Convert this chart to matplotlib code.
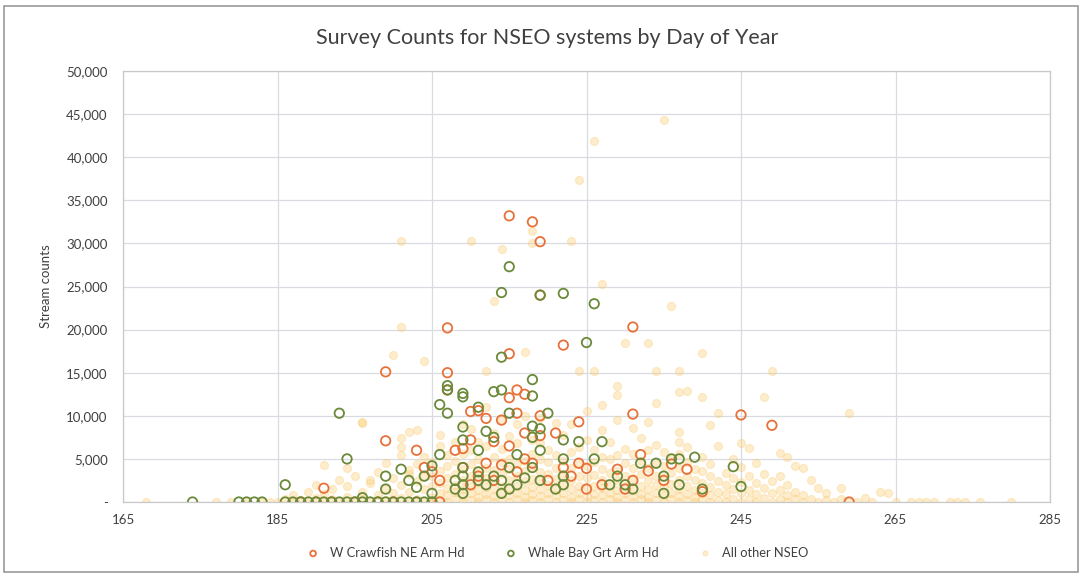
import matplotlib.pyplot as plt
import numpy as np
from matplotlib.ticker import FuncFormatter
from matplotlib.patches import Rectangle

plt.rcParams['font.family'] = ['Lato', 'DejaVu Sans']

# Data: (day of year, stream count)
crawfish_pts = [
    (188, 0), (190, 0), (192, 0), (195, 0), (198, 0), (200, 0), (203, 0), (206, 0),
    (191, 1600), (199, 7100), (199, 15100), (203, 6000), (204, 4000), (205, 3500),
    (206, 2500), (207, 20200), (207, 15000), (207, 13000), (208, 6000), (209, 4000),
    (209, 6200), (210, 10500), (210, 7200), (210, 2000), (211, 10600), (211, 3000),
    (212, 4500), (212, 9700), (213, 7000), (213, 2500), (214, 9500), (214, 4300),
    (215, 33200), (215, 17200), (215, 12100), (215, 6500), (216, 13000), (216, 10300),
    (216, 3500), (217, 12500), (217, 8000), (217, 5000), (218, 32500), (218, 4500),
    (219, 30200), (219, 24000), (219, 10000), (219, 7700), (220, 2500), (221, 8000),
    (222, 18200), (222, 4000), (223, 3000), (224, 9300), (224, 4500), (225, 3900),
    (225, 1500), (227, 2000), (229, 3800), (230, 1500), (231, 20300), (231, 10200),
    (231, 2500), (232, 5500), (233, 3600), (235, 2500), (236, 4400), (238, 3800),
    (240, 1200), (245, 10100), (249, 8900), (259, 0),
]

whale_pts = [
    (174, 0), (180, 0), (181, 0), (182, 0), (183, 0), (186, 0), (187, 0), (188, 0),
    (189, 0), (190, 0), (191, 0), (192, 0), (193, 0), (194, 0), (195, 0), (196, 0),
    (197, 0), (198, 0), (199, 0), (200, 0), (201, 0), (202, 0), (203, 0), (204, 0),
    (205, 0), (186, 2000), (193, 10300), (194, 5000), (196, 500), (199, 1500),
    (199, 3000), (201, 3800), (202, 2500), (203, 1700), (204, 3000), (205, 1000),
    (205, 4200), (206, 5500), (206, 11300), (207, 10300), (207, 13000), (207, 13500),
    (209, 12200), (209, 12600), (209, 8700), (209, 7200), (209, 4000), (209, 3000),
    (209, 2000), (209, 1000), (208, 2500), (208, 1500), (211, 11000), (211, 6000),
    (211, 3500), (211, 2500), (212, 8200), (212, 2000), (213, 12800), (213, 7500),
    (213, 3000), (214, 24300), (214, 16800), (214, 13000), (214, 1000), (214, 2500),
    (215, 27300), (215, 10300), (215, 4000), (215, 1500), (216, 5500), (216, 2000),
    (217, 2800), (218, 14200), (218, 12300), (218, 8800), (218, 7500), (218, 4000),
    (219, 24000), (219, 8500), (219, 6000), (219, 2500), (220, 10300), (221, 1500),
    (222, 24200), (222, 7200), (222, 5000), (222, 3000), (222, 2000), (224, 7000),
    (225, 18500), (226, 23000), (226, 5000), (227, 7000), (228, 2000), (229, 3000),
    (230, 2000), (231, 1500), (232, 4500), (234, 4500), (235, 1000), (235, 3000),
    (236, 5000), (237, 5000), (237, 2000), (239, 5200), (240, 1500), (244, 4100),
    (245, 1800),
]

other_pts = [
    # scattered high counts
    (235, 44300), (226, 41900), (224, 37300), (201, 30300), (210, 30300), (223, 30300),
    (214, 29300), (218, 31400), (218, 30100), (227, 25300), (213, 23300), (236, 22700),
    (201, 20350), (230, 18400), (233, 18500), (240, 17300), (217, 17400), (200, 17000),
    (204, 16300), (224, 15200), (226, 15200), (234, 15200), (237, 15200), (212, 15200),
    (249, 15200), (238, 12900), (240, 12200), (234, 11500), (248, 12200), (242, 10300),
    (241, 8950), (259, 10350), (229, 13400), (229, 12400), (237, 12800), (227, 11200),
    (233, 9300), (231, 8600), (237, 8100), (237, 7000), (246, 6300), (250, 5700),
    (251, 5200), (252, 4200), (245, 4100), (253, 3950), (254, 2550), (255, 1600),
    (258, 1600), (256, 1000), (263, 1160), (264, 1000), (261, 460),
    (196, 9300), (203, 8400), (201, 7400), (201, 6400), (206, 7800), (196, 9200),
    (191, 4300), (194, 3950), (197, 2550), (202, 8100), (202, 3700),
    # early season
    (168, 0), (177, 0), (179, 0), (181, 0), (183, 0), (184, 0),
    (185, 0), (186, 300), (187, 0), (187, 800), (188, 200), (189, 0), (189, 1200),
    (190, 500), (190, 2000), (191, 0), (191, 900), (192, 300), (192, 1500), (193, 0),
    (193, 2500), (194, 600), (194, 1800), (195, 0), (195, 3000), (196, 400), (196, 1200),
    (197, 2200), (197, 0), (198, 800), (198, 3500), (199, 200), (199, 1600), (199, 4500),
    (200, 0), (200, 1000), (200, 2800), (201, 500), (201, 2000), (201, 5500), (202, 0),
    (202, 1200), (202, 3200), (203, 400), (203, 2400), (203, 4400), (204, 0), (204, 1500),
    (204, 3000), (204, 5200),
    # main run
    (205, 0), (205, 600), (205, 1800), (205, 3000), (205, 4600),
    (206, 200), (206, 1000), (206, 2200), (206, 3600), (206, 6500),
    (207, 0), (207, 800), (207, 1600), (207, 2800), (207, 4200), (207, 5500),
    (208, 300), (208, 1200), (208, 2000), (208, 3300), (208, 4800), (208, 7000),
    (209, 0), (209, 700), (209, 1500), (209, 2600), (209, 3800), (209, 5600), (209, 9000),
    (210, 200), (210, 1000), (210, 1800), (210, 3000), (210, 4400), (210, 6000), (210, 8500),
    (211, 0), (211, 600), (211, 1400), (211, 2300), (211, 3600), (211, 5000), (211, 7000),
    (212, 300), (212, 900), (212, 1700), (212, 2800), (212, 4000), (212, 6500), (212, 11000),
    (213, 0), (213, 700), (213, 1500), (213, 2500), (213, 3700), (213, 5200), (213, 8000),
    (214, 200), (214, 1100), (214, 1900), (214, 3200), (214, 4600), (214, 6200), (214, 9500),
    (215, 0), (215, 800), (215, 1600), (215, 2600), (215, 3800), (215, 5000), (215, 7600),
    (216, 300), (216, 1000), (216, 1800), (216, 3000), (216, 4400), (216, 6800), (216, 9000),
    (217, 0), (217, 600), (217, 1400), (217, 2400), (217, 3600), (217, 4800), (217, 10000),
    (218, 200), (218, 900), (218, 1700), (218, 2700), (218, 4200), (218, 5600), (218, 7200),
    (219, 0), (219, 700), (219, 1500), (219, 2500), (219, 3500), (219, 5000), (219, 6800),
    (219, 9800),
    (220, 300), (220, 1000), (220, 2000), (220, 3200), (220, 4600), (220, 6000),
    (221, 0), (221, 800), (221, 1600), (221, 2700), (221, 3900), (221, 5400), (221, 9200),
    (222, 200), (222, 1100), (222, 2100), (222, 3300), (222, 4800), (222, 7800),
    (223, 0), (223, 600), (223, 1500), (223, 2600), (223, 4000), (223, 5800), (223, 9000),
    (224, 300), (224, 1000), (224, 1900), (224, 3000), (224, 4400), (224, 6400),
    (225, 0), (225, 700), (225, 1700), (225, 2800), (225, 4200), (225, 7200), (225, 10500),
    (226, 200), (226, 900), (226, 1800), (226, 3100), (226, 4600), (226, 6000),
    (227, 0), (227, 800), (227, 1600), (227, 2600), (227, 3800), (227, 5200), (227, 8400),
    (228, 300), (228, 1100), (228, 2000), (228, 3400), (228, 5000), (228, 7000),
    (229, 0), (229, 600), (229, 1400), (229, 2500), (229, 3600), (229, 5400), (229, 9500),
    (230, 200), (230, 1000), (230, 1900), (230, 3000), (230, 4500), (230, 6200),
    (231, 0), (231, 700), (231, 1600), (231, 2800), (231, 4000), (231, 5600),
    (232, 300), (232, 900), (232, 1800), (232, 3200), (232, 4800), (232, 7400),
    (233, 0), (233, 600), (233, 1500), (233, 2600), (233, 3900), (233, 6000),
    (234, 200), (234, 1100), (234, 2000), (234, 3000), (234, 4400), (234, 6600),
    (235, 0), (235, 800), (235, 1700), (235, 2900), (235, 4200), (235, 5800),
    (236, 300), (236, 1000), (236, 2100), (236, 3400), (236, 5000),
    (237, 0), (237, 700), (237, 1500), (237, 2600), (237, 4000), (237, 5600),
    (238, 200), (238, 900), (238, 1800), (238, 3000), (238, 4600), (238, 6400),
    (239, 0), (239, 600), (239, 1400), (239, 2500), (239, 3800),
    (240, 300), (240, 1000), (240, 2200), (240, 3600), (240, 5200),
    (241, 0), (241, 800), (241, 1700), (241, 3000), (241, 4400),
    (242, 200), (242, 1200), (242, 2400), (242, 6500),
    (243, 0), (243, 900), (243, 2000), (243, 3400),
    (244, 400), (244, 1500), (244, 2800), (244, 5000),
    (245, 0), (245, 1000), (245, 2300), (245, 6800),
    (246, 300), (246, 1400), (246, 3000),
    (247, 0), (247, 900), (247, 2200), (247, 4500),
    (248, 500), (248, 1600), (248, 3200),
    (249, 0), (249, 1100), (249, 2400),
    (250, 300), (250, 1400), (250, 3000),
    (251, 0), (251, 800), (251, 2000),
    (252, 400), (252, 1200), (253, 0), (253, 800),
    # tail
    (254, 300), (255, 0), (256, 200), (257, 0), (258, 300), (259, 0), (260, 0),
    (262, 0), (265, 0), (267, 0), (268, 0), (269, 0), (270, 0), (272, 0), (273, 0),
    (274, 0), (276, 0), (280, 0),
]

series_names = ['W Crawfish NE Arm Hd', 'Whale Bay Grt Arm Hd', 'All other NSEO']
x_ticks = [165, 185, 205, 225, 245, 265, 285]
y_ticks = list(range(0, 50001, 5000))

crawfish = np.array(crawfish_pts, dtype=float)
whale = np.array(whale_pts, dtype=float)
other = np.array(other_pts, dtype=float)

fig = plt.figure(figsize=(10.82, 5.74), dpi=100)
ax1 = fig.add_axes([123/1082, 1-502/574, (1050-123)/1082, (502-71)/574])

# outer chart frame like the scanned Excel chart
fig.patches.append(Rectangle((0.004, 0.004), 0.992, 0.985, transform=fig.transFigure,
                             fill=False, edgecolor='#9a9a9a', linewidth=1.2))

ax1.scatter(other[:, 0], other[:, 1], s=34, color='#FBC96A', alpha=0.33,
            linewidths=0.8, label=series_names[2], zorder=2)
ax1.scatter(crawfish[:, 0], crawfish[:, 1], s=46, facecolors='none', edgecolors='#E8713A',
            linewidths=1.3, label=series_names[0], zorder=3)
ax1.scatter(whale[:, 0], whale[:, 1], s=46, facecolors='none', edgecolors='#6A8A3A',
            linewidths=1.3, label=series_names[1], zorder=4)

ax1.set_xlim(165, 285)
ax1.set_ylim(0, 50000)
ax1.set_xticks(x_ticks)
ax1.set_yticks(y_ticks)
ax1.yaxis.set_major_formatter(FuncFormatter(lambda v, p: '-' if v == 0 else '{:,.0f}'.format(v)))
ax1.grid(True, color='#d8dce2', linewidth=0.9, zorder=0)
ax1.set_axisbelow(True)
for s in ax1.spines.values():
    s.set_color('#c8c8c8')
    s.set_linewidth(0.9)
ax1.tick_params(length=0, labelsize=9.5, colors='#404040', pad=11)
ax1.tick_params(axis='x', pad=9)

ax1.set_ylabel('Stream counts', fontsize=9.5, color='#404040', labelpad=10)
fig.text(0.506, 0.934, 'Survey Counts for NSEO systems by Day of Year', ha='center',
         va='center', fontsize=15.5, color='#404040')

h = ax1.get_legend_handles_labels()
order = [1, 2, 0]
ax1.legend([h[0][i] for i in order], [h[1][i] for i in order], loc='center',
           bbox_to_anchor=(0.465, -0.118), ncol=3, frameon=False, fontsize=9.3,
           handletextpad=0.3, columnspacing=2.6, markerscale=0.6, labelcolor='#404040')

fig.savefig('out.png', dpi=100)
